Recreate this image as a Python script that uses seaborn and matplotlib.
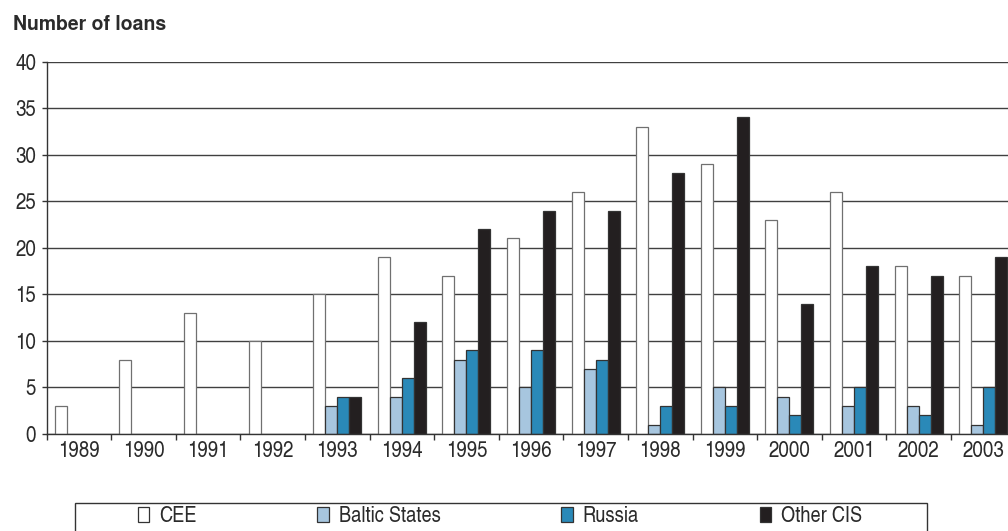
import matplotlib
matplotlib.use("Agg")
import matplotlib.pyplot as plt
from matplotlib.patches import Patch, Rectangle
import seaborn as sns
import pandas as pd
import numpy as np

years = ["1989", "1990", "1991", "1992", "1993", "1994", "1995", "1996",
         "1997", "1998", "1999", "2000", "2001", "2002", "2003"]
cee = [3, 8, 13, 10, 15, 19, 17, 21, 26, 33, 29, 23, 26, 18, 17]
baltic = [np.nan, np.nan, np.nan, np.nan, 3, 4, 8, 5, 7, 1, 5, 4, 3, 3, 1]
russia = [np.nan, np.nan, np.nan, np.nan, 4, 6, 9, 9, 8, 3, 3, 2, 5, 2, 5]
other_cis = [np.nan, np.nan, np.nan, np.nan, 4, 12, 22, 24, 24, 28, 34, 14, 18, 17, 19]
regions = ["CEE", "Baltic States", "Russia", "Other CIS"]
colors = ["#ffffff", "#a7c6df", "#2a89b8", "#231f20"]

df = pd.DataFrame({
    "year": years * 4,
    "loans": cee + baltic + russia + other_cis,
    "region": sum([[r] * len(years) for r in regions], []),
})

sns.set_theme(style="white")
plt.rcParams["font.family"] = ["TeX Gyre Heros Cn", "Roboto Condensed", "DejaVu Sans"]

W, H = 1008, 531
ink = "#2b2b2b"
fig = plt.figure(figsize=(W / 100, H / 100), dpi=100)
ax = fig.add_axes([46.5 / W, 1 - 434 / H, 969 / W, 372.5 / H])

ax.yaxis.grid(True, color="#404040", linewidth=1.0)
ax.set_axisbelow(True)

sns.barplot(data=df, x="year", y="loans", hue="region", hue_order=regions,
            order=years, palette=colors, width=0.745, edgecolor="#333333",
            linewidth=0.9, saturation=1, ax=ax, legend=False)

# softer outline on the white CEE bars
for patch in ax.containers[0]:
    patch.set_edgecolor("#707070")

ax.set_xlim(-0.5, len(years) - 0.5)
ax.set_ylim(0, 40)
ax.set_yticks(range(0, 41, 5))
ax.set_xlabel("")
ax.set_ylabel("")

for side in ["top", "right"]:
    ax.spines[side].set_visible(False)
for side in ["left", "bottom"]:
    ax.spines[side].set_color("#333333")
    ax.spines[side].set_linewidth(1.0)

ax.tick_params(axis="y", which="major", length=3.5, width=1.0, color="#333333",
               direction="out", left=True, labelsize=16.5, pad=4, labelcolor=ink)
ax.tick_params(axis="x", which="major", length=0, labelsize=16.5, pad=5,
               labelcolor=ink)
ax.set_xticks(np.arange(-0.5, len(years), 1.0), minor=True)
ax.tick_params(axis="x", which="minor", length=4, width=1.0, color="#333333",
               direction="out", bottom=True)

fig.text(13 / W, 1 - 29.5 / H, "Number of loans", fontsize=14,
         fontweight="bold", va="baseline", ha="left", color=ink,
         family=["TeX Gyre Heros", "Liberation Sans", "DejaVu Sans"])

# legend strip: open-bottomed box running off the lower edge
fig.add_artist(Rectangle((75 / W, -0.05), 852 / W, 0.05 + (H - 503) / H,
                         transform=fig.transFigure, fill=False,
                         edgecolor="#333333", linewidth=1.0))
handles = [Patch(facecolor=c, edgecolor="#333333", linewidth=0.9) for c in colors]
leg = fig.legend(handles, regions, ncol=4, loc="center",
                 bbox_to_anchor=(500 / W, 1 - 517 / H), frameon=False,
                 fontsize=16, handlelength=0.5, handleheight=0.65,
                 handletextpad=0.45, borderpad=0, borderaxespad=0,
                 columnspacing=5.45)
for t in leg.get_texts():
    t.set_color(ink)

fig.savefig("out.png", dpi=100)
